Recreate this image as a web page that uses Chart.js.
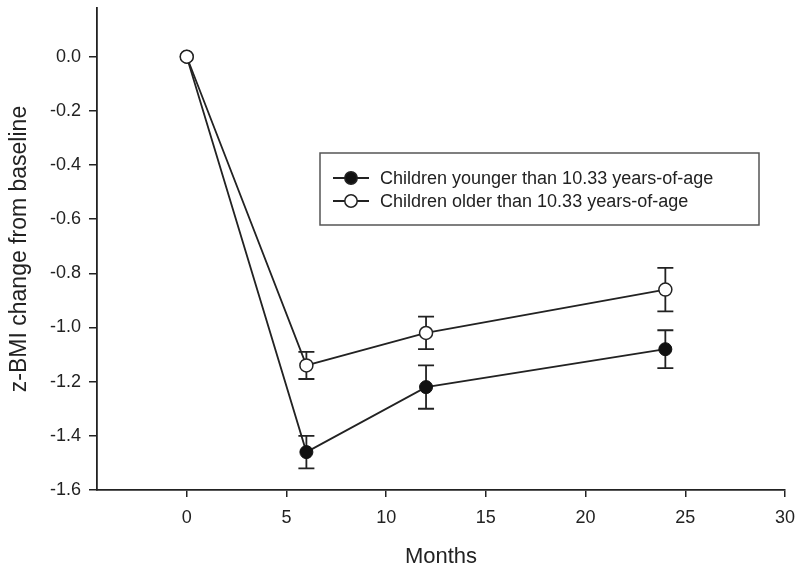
<!DOCTYPE html>
<html>
<head>
<meta charset="utf-8">
<script src="https://cdn.jsdelivr.net/npm/chart.js@4.4.1/dist/chart.umd.min.js"></script>
<style>
    body { margin: 0; background: #fff; }
    #wrap { width: 800px; height: 574px; }
</style>
</head>
<body>
<div id="wrap"><canvas id="myChart" width="800" height="574"></canvas></div>
<script>
// data
const months = [0, 6, 12, 24];
const youngerMean = [0, -1.46, -1.22, -1.08];
const youngerHigh = [null, -1.40, -1.14, -1.01];
const youngerLow = [null, -1.52, -1.30, -1.15];
const olderMean = [0, -1.14, -1.02, -0.86];
const olderHigh = [null, -1.09, -0.96, -0.78];
const olderLow = [null, -1.19, -1.08, -0.94];

const xTicks = [0, 5, 10, 15, 20, 25, 30];
const yTicks = [0, -0.2, -0.4, -0.6, -0.8, -1.0, -1.2, -1.4, -1.6];
const seriesNames = ['Children younger than 10.33 years-of-age', 'Children older than 10.33 years-of-age'];
const markerFill = ['#111', '#fff'];

const ink = '#222';
const font = 'Arial, "Liberation Sans", sans-serif';

function toPoints(xs, ys) {
    return xs.map((x, i) => ({ x: x, y: ys[i] }));
}

const errorBars = {
    id: 'errorBars',
    beforeDatasetsDraw(chart) {
        let ctx = chart.ctx;
        let x = chart.scales.x;
        let y = chart.scales.y;
        let bars = [[youngerHigh, youngerLow], [olderHigh, olderLow]];
        ctx.save();
        ctx.strokeStyle = ink;
        ctx.lineWidth = 1.8;
        bars.forEach(pair => {
            months.forEach((m, i) => {
                if (pair[0][i] == null) return;
                let px = x.getPixelForValue(m);
                let top = y.getPixelForValue(pair[0][i]);
                let bot = y.getPixelForValue(pair[1][i]);
                ctx.beginPath();
                ctx.moveTo(px, top); ctx.lineTo(px, bot);
                ctx.moveTo(px - 8, top); ctx.lineTo(px + 8, top);
                ctx.moveTo(px - 8, bot); ctx.lineTo(px + 8, bot);
                ctx.stroke();
            });
        });
        ctx.restore();
    }
};

const boxLegend = {
    id: 'boxLegend',
    afterDraw(chart) {
        let ctx = chart.ctx;
        let left = 320, top = 153, w = 439, h = 72;
        ctx.save();
        ctx.strokeStyle = '#555';
        ctx.lineWidth = 1.5;
        ctx.strokeRect(left, top, w, h);
        ctx.font = '18px ' + font;
        ctx.textBaseline = 'middle';
        seriesNames.forEach((name, i) => {
            let cy = top + 25 + i * 23;
            ctx.strokeStyle = ink;
            ctx.lineWidth = 1.8;
            ctx.beginPath();
            ctx.moveTo(333, cy); ctx.lineTo(369, cy);
            ctx.stroke();
            ctx.beginPath();
            ctx.arc(351, cy, 6.2, 0, Math.PI * 2);
            ctx.fillStyle = markerFill[i];
            ctx.fill();
            ctx.lineWidth = 1.5;
            ctx.stroke();
            ctx.fillStyle = ink;
            ctx.fillText(name, 380, cy + 1);
        });
        ctx.restore();
    }
};

const ctx = document.getElementById('myChart').getContext('2d');
// older first so its open marker sits on top at month 0
const myChart = new Chart(ctx, {
    type: 'line',
    data: {
        datasets: [{
            label: seriesNames[1],
            data: toPoints(months, olderMean),
            borderColor: ink,
            borderWidth: 1.8,
            pointRadius: 6.5,
            pointBackgroundColor: markerFill[1],
            pointBorderColor: ink,
            pointBorderWidth: 1.5,
            tension: 0
        }, {
            label: seriesNames[0],
            data: toPoints(months, youngerMean),
            borderColor: ink,
            borderWidth: 1.8,
            pointRadius: 6.5,
            pointBackgroundColor: markerFill[0],
            pointBorderColor: '#111',
            pointBorderWidth: 1,
            tension: 0
        }]
    },
    options: {
        responsive: false,
        animation: false,
        layout: { padding: { left: 0, right: 15, top: 8, bottom: 0 } },
        plugins: {
            legend: { display: false },
            tooltip: { enabled: false }
        },
        scales: {
            x: {
                type: 'linear',
                min: -4.5,
                max: 30,
                afterBuildTicks: axis => { axis.ticks = xTicks.map(v => ({ value: v })); },
                afterFit: axis => { axis.height = 84; axis.paddingLeft = 0; axis.paddingRight = 0; },
                border: { display: true, color: ink, width: 1.8 },
                grid: { display: true, drawOnChartArea: false, drawTicks: true, tickLength: 7, color: ink, lineWidth: 1.5 },
                ticks: { color: ink, font: { family: font, size: 18 }, padding: 10, maxRotation: 0 },
                title: { display: true, text: 'Months', color: ink, font: { family: font, size: 22 }, padding: { top: 14, bottom: 4 } }
            },
            y: {
                min: -1.6,
                max: 0.18,
                afterBuildTicks: axis => { axis.ticks = yTicks.map(v => ({ value: v })); },
                afterFit: axis => { axis.width = 97; axis.paddingTop = 0; axis.paddingBottom = 0; },
                border: { display: true, color: ink, width: 1.8 },
                grid: { display: true, drawOnChartArea: false, drawTicks: true, tickLength: 8, color: ink, lineWidth: 1.5 },
                ticks: { color: ink, font: { family: font, size: 18 }, padding: 8, callback: v => v.toFixed(1) },
                title: { display: true, text: 'z-BMI change from baseline', color: ink, font: { family: font, size: 23 }, padding: { top: 6, bottom: 4 } }
            }
        }
    },
    plugins: [errorBars, boxLegend]
});
</script>
</body>
</html>
